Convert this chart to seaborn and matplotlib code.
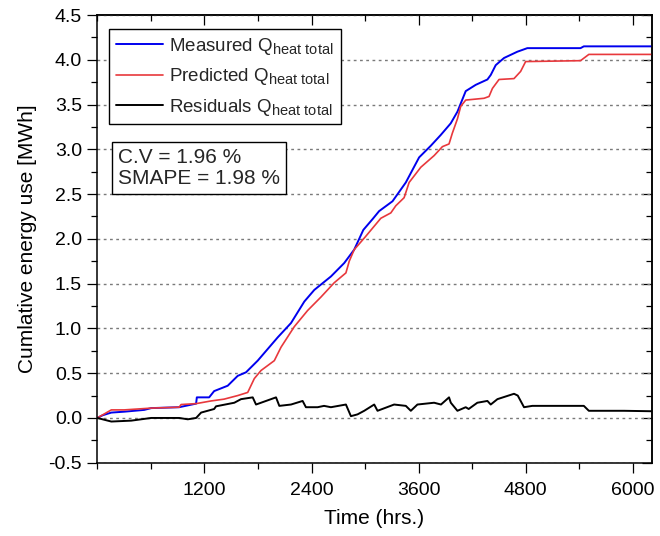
import matplotlib
matplotlib.use("Agg")
import matplotlib.pyplot as plt
from matplotlib.ticker import MultipleLocator, FixedLocator, FormatStrFormatter
import seaborn as sns
import pandas as pd

try:
    import matplotlib._mathtext as _mt
    _mt.SHRINK_FACTOR = 0.78
except Exception:
    pass

# ---- data ----
measured_t = [0, 60, 157, 302, 526, 604, 917, 1107, 1115, 1253, 1309, 1461, 1573, 1666, 1797,
              2021, 2170, 2319, 2431, 2617, 2766, 2878, 2980, 3083, 3157, 3307, 3456, 3605, 3736,
              3847, 3959, 4034, 4127, 4239, 4370, 4407, 4463, 4556, 4705, 4817, 5413, 5450, 6210]
measured_q = [0, 0.03, 0.06, 0.07, 0.09, 0.11, 0.12, 0.16, 0.23, 0.23, 0.30, 0.36, 0.47, 0.51, 0.64,
              0.90, 1.06, 1.30, 1.43, 1.58, 1.73, 1.88, 2.10, 2.22, 2.31, 2.42, 2.63, 2.91, 3.04,
              3.16, 3.29, 3.42, 3.65, 3.72, 3.78, 3.83, 3.94, 4.02, 4.09, 4.13, 4.13, 4.15, 4.15]

predicted_t = [0, 157, 302, 604, 917, 939, 1107, 1275, 1420, 1573, 1685, 1759, 1834, 1983, 2058,
               2207, 2356, 2505, 2654, 2785, 2822, 2878, 3000, 3176, 3288, 3344, 3437, 3493, 3624,
               3773, 3866, 3940, 3977, 4034, 4071, 4127, 4332, 4388, 4426, 4500, 4668, 4742, 4798,
               5413, 5506, 6210]
predicted_q = [0, 0.09, 0.09, 0.11, 0.12, 0.15, 0.16, 0.19, 0.21, 0.25, 0.285, 0.44, 0.53, 0.64, 0.79,
               1.02, 1.20, 1.35, 1.51, 1.62, 1.75, 1.88, 2.02, 2.23, 2.29, 2.37, 2.46, 2.63, 2.80,
               2.93, 3.03, 3.06, 3.18, 3.34, 3.48, 3.55, 3.57, 3.59, 3.68, 3.78, 3.79, 3.87, 3.98,
               3.99, 4.06, 4.06]

residual_t = [0, 157, 380, 604, 917, 1014, 1107, 1163, 1309, 1330, 1535, 1610, 1741, 1778, 1834,
              2002, 2039, 2170, 2300, 2337, 2468, 2540, 2617, 2785, 2841, 2915, 2990, 3102, 3139,
              3325, 3456, 3512, 3586, 3773, 3850, 3940, 3960, 4034, 4127, 4160, 4257, 4370, 4407,
              4482, 4668, 4710, 4780, 4873, 5450, 5506, 5900, 6210]
residual_q = [0, -0.04, -0.03, 0.0, 0.0, -0.015, 0.0, 0.06, 0.10, 0.13, 0.17, 0.21, 0.23, 0.15, 0.17,
              0.23, 0.135, 0.15, 0.19, 0.12, 0.12, 0.135, 0.12, 0.15, 0.02, 0.04, 0.08, 0.15, 0.08,
              0.15, 0.135, 0.08, 0.15, 0.17, 0.15, 0.23, 0.17, 0.08, 0.12, 0.10, 0.17, 0.19, 0.15,
              0.21, 0.27, 0.25, 0.12, 0.135, 0.135, 0.08, 0.08, 0.075]

labels = [r"Measured Q$_\mathregular{heat\ total}$",
          r"Predicted Q$_\mathregular{heat\ total}$",
          r"Residuals Q$_\mathregular{heat\ total}$"]
stats_text = "C.V = 1.96 %\nSMAPE = 1.98 %"
x_major = [1200, 2400, 3600, 4800, 6000]

# ---- styling ----
sns.set_theme(style="white")
plt.rcParams["font.family"] = ["Liberation Sans", "DejaVu Sans"]
plt.rcParams["mathtext.fontset"] = "custom"
plt.rcParams["mathtext.rm"] = "Liberation Sans"
plt.rcParams["mathtext.it"] = "Liberation Sans:italic"
plt.rcParams["mathtext.bf"] = "Liberation Sans:bold"

fig = plt.figure(figsize=(6.6, 5.36), dpi=100)
ax = fig.add_axes([0.1474, 0.1367, 0.8400, 0.8353])

df_m = pd.DataFrame({"t": measured_t, "q": measured_q})
df_p = pd.DataFrame({"t": predicted_t, "q": predicted_q})
df_r = pd.DataFrame({"t": residual_t, "q": residual_q})

sns.lineplot(data=df_m, x="t", y="q", ax=ax, color="#0000ee", lw=1.4, label=labels[0], sort=False)
sns.lineplot(data=df_p, x="t", y="q", ax=ax, color="#e8383c", lw=1.2, label=labels[1], sort=False)
sns.lineplot(data=df_r, x="t", y="q", ax=ax, color="black", lw=1.4, label=labels[2], sort=False)

ax.set_xlim(0, 6210)
ax.set_ylim(-0.5, 4.5)

ax.xaxis.set_major_locator(FixedLocator(x_major))
ax.xaxis.set_minor_locator(MultipleLocator(600))
ax.yaxis.set_major_locator(MultipleLocator(0.5))
ax.yaxis.set_minor_locator(MultipleLocator(0.25))
ax.yaxis.set_major_formatter(FormatStrFormatter("%.1f"))

ax.tick_params(axis="both", which="major", direction="out", length=7, width=0.9,
               labelsize=14, colors="black")
ax.tick_params(axis="both", which="minor", direction="out", length=4, width=0.9, colors="black")
ax.tick_params(axis="x", which="major", pad=7)
ax.tick_params(axis="y", which="major", pad=4)
ax.tick_params(bottom=True, left=True, top=False, right=False, which="both")

# mirrored inward ticks on top / right
sec_x = ax.secondary_xaxis("top")
sec_x.xaxis.set_major_locator(FixedLocator(x_major))
sec_x.xaxis.set_minor_locator(MultipleLocator(600))
sec_x.tick_params(which="major", direction="in", length=7, width=0.9, labeltop=False, colors="black")
sec_x.tick_params(which="minor", direction="in", length=4, width=0.9, colors="black")
sec_y = ax.secondary_yaxis("right")
sec_y.yaxis.set_major_locator(MultipleLocator(0.5))
sec_y.yaxis.set_minor_locator(MultipleLocator(0.25))
sec_y.tick_params(which="major", direction="in", length=7, width=0.9, labelright=False, colors="black")
sec_y.tick_params(which="minor", direction="in", length=4, width=0.9, colors="black")
for s in (sec_x, sec_y):
    for sp in s.spines.values():
        sp.set_linewidth(1.1)
        sp.set_color("black")

for sp in ax.spines.values():
    sp.set_visible(True)
    sp.set_linewidth(1.1)
    sp.set_color("black")

ax.yaxis.grid(True, which="major", linestyle=(0, (2, 2.5)), color="#7a7a7a", linewidth=1.0)
ax.xaxis.grid(False)
ax.set_axisbelow(True)

ax.set_xlabel("Time (hrs.)", fontsize=15, color="black", labelpad=7)
ax.set_ylabel("Cumlative energy use [MWh]", fontsize=15, color="black", labelpad=8)

leg = ax.legend(loc="upper left", bbox_to_anchor=(0.022, 0.968), fontsize=13.5,
                frameon=True, fancybox=False, edgecolor="black", framealpha=1,
                handlelength=2.5, handletextpad=0.35, borderpad=0.35, labelspacing=0.5,
                borderaxespad=0)
leg.get_frame().set_linewidth(1.0)

ax.text(0.0373, 0.703, stats_text, transform=ax.transAxes, fontsize=15, va="top", ha="left",
        linespacing=1.15,
        bbox=dict(boxstyle="square,pad=0.28", facecolor="white", edgecolor="black", linewidth=1.0))

fig.savefig("out.png", dpi=100)
